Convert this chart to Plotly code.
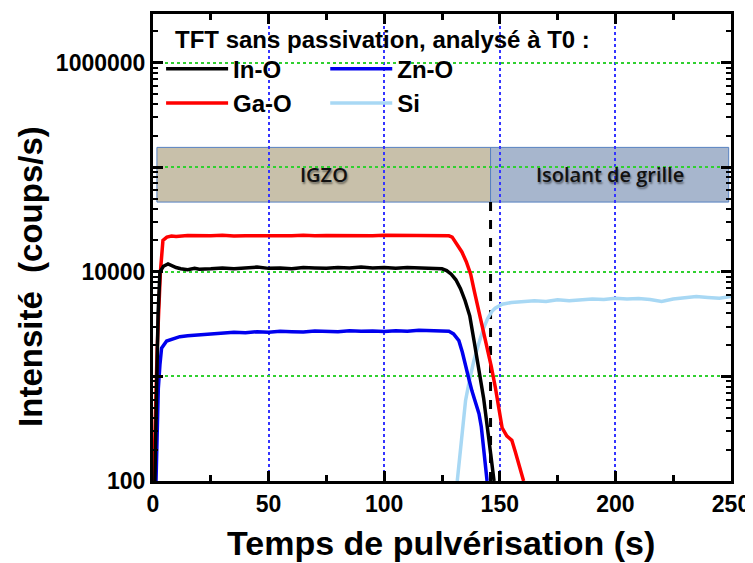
import math
import plotly.graph_objects as go

# ---------------- data ----------------
t_in = [0.8, 1.5, 2.2, 3.0, 4.5, 6.5, 8, 10, 12, 15, 18, 20, 25, 30, 35, 40, 45, 50, 55, 60, 65,
        70, 75, 80, 85, 90, 95, 100, 105, 110, 115, 120, 125, 127, 129, 131, 133, 135, 137, 139,
        141, 143, 145, 146, 147, 147.5]
in_o = [100, 1000, 4000, 10000, 11300, 11900, 11400, 11000, 10700, 10500, 10800, 10600, 10700,
        10900, 10700, 10800, 11100, 10800, 10900, 10700, 11000, 10900, 10800, 11000, 10900, 11100,
        10900, 11000, 10800, 11000, 10900, 10800, 10700, 10300, 9500, 8400, 6900, 5300, 3800, 2100,
        1100, 620, 280, 190, 120, 100]

t_ga = [0.3, 1.0, 1.8, 2.3, 3.2, 4.3, 6, 8, 10, 15, 20, 25, 30, 35, 40, 45, 50, 55, 60, 65, 70,
        75, 80, 85, 90, 95, 100, 105, 110, 115, 120, 125, 128, 129.4, 131, 133.6, 135.5, 137.4,
        139, 141, 142.8, 144.5, 146.3, 148.1, 149.5, 151, 153, 155.2, 156.7, 158.2, 160.3]
ga_o = [100, 500, 1800, 3400, 10000, 20000, 21500, 22000, 21800, 22300, 22000, 22100, 22400,
        22000, 22200, 22100, 22300, 22000, 22200, 22400, 22100, 22300, 22200, 22500, 22300,
        22200, 22400, 22300, 22100, 22400, 22300, 22200, 22100, 21500, 19000, 15500, 12500, 9500,
        6500, 4200, 2900, 2000, 1250, 780, 500, 323, 270, 245, 190, 148, 100]

t_zn = [1.3, 1.8, 2.3, 3.0, 3.7, 5.9, 8, 11.6, 15, 20, 25, 30, 35, 40, 45, 50, 55, 60, 65, 70,
        75, 80, 85, 90, 95, 100, 105, 110, 115, 120, 125, 128, 130, 132.3, 133.8, 135.2, 136.6,
        138, 139.5, 141, 142, 143.1, 144, 144.5]
zn_o = [100, 300, 770, 1300, 1860, 2180, 2250, 2400, 2450, 2500, 2550, 2600, 2650, 2620, 2680,
        2650, 2700, 2680, 2660, 2720, 2700, 2680, 2740, 2700, 2720, 2690, 2740, 2700, 2760, 2720,
        2700, 2700, 2550, 2200, 1700, 1220, 950, 720, 560, 440, 330, 200, 130, 100]

t_si = [131.6, 133.4, 135.2, 137, 138.8, 141, 143.1, 144.8, 146.6, 148, 149.6, 151, 155, 160,
        165, 170, 175, 180, 185, 190, 195, 200, 205, 210, 215, 220, 225, 230, 235, 240, 245, 250]
si = [100, 250, 590, 950, 1420, 2100, 2940, 3600, 4200, 4500, 4700, 4900, 5100, 5200, 5300,
      5200, 5400, 5300, 5400, 5500, 5450, 5600, 5500, 5550, 5450, 5200, 5500, 5600, 5800, 5700,
      5600, 5800]

# layer boxes and interface
interface_t = 146
igzo_box = [1.7, 146]
iso_box = [146, 249]
box_y = [46500, 155000]
layer_names = ["IGZO", "Isolant de grille"]

x_ticks = [0, 50, 100, 150, 200, 250]
y_ticks = [100, 1000, 10000, 100000, 1000000]
y_ticktext = ["100", "", "10000", "", "1000000"]

# ---------------- figure ----------------
FONT = "Liberation Sans, Arial, sans-serif"
fig = go.Figure()

box_mid_log = (math.log10(box_y[0]) + math.log10(box_y[1])) / 2
fig.add_shape(type="rect", xref="x", yref="y", x0=igzo_box[0], x1=igzo_box[1], y0=box_y[0], y1=box_y[1],
              fillcolor="#c8c0aa", line=dict(color="#5580c0", width=1), layer="below")
fig.add_shape(type="rect", xref="x", yref="y", x0=iso_box[0], x1=iso_box[1], y0=box_y[0], y1=box_y[1],
              fillcolor="#a7b6cd", line=dict(color="#5580c0", width=1), layer="below")
label_font = dict(family="Open Sans, Lato, sans-serif", size=20, color="#111", weight=600,
                  shadow="1px 2px 2px rgba(0,0,0,0.45)")
fig.add_annotation(x=(igzo_box[0] + igzo_box[1]) / 2, y=box_mid_log, xref="x", yref="y",
                   text=layer_names[0], showarrow=False, font=label_font,
                   xanchor="center", yanchor="middle")
fig.add_annotation(x=(iso_box[0] + iso_box[1]) / 2, y=box_mid_log, xref="x", yref="y",
                   text=layer_names[1], showarrow=False, font=label_font,
                   xanchor="center", yanchor="middle")

# interface dashed line
fig.add_trace(go.Scatter(x=[interface_t, interface_t], y=[100, box_y[0]], mode="lines",
                         line=dict(color="black", width=3, dash="dash"), showlegend=False,
                         hoverinfo="skip"))

lw = 3.5
fig.add_trace(go.Scatter(x=t_si, y=si, mode="lines", name="Si",
                         line=dict(color="#a8d8f4", width=lw), legend="legend2"))
fig.add_trace(go.Scatter(x=t_zn, y=zn_o, mode="lines", name="Zn-O",
                         line=dict(color="#0000ee", width=lw), legend="legend2"))
fig.add_trace(go.Scatter(x=t_ga, y=ga_o, mode="lines", name="Ga-O",
                         line=dict(color="#ff0000", width=lw), legend="legend"))
fig.add_trace(go.Scatter(x=t_in, y=in_o, mode="lines", name="In-O",
                         line=dict(color="#000000", width=lw), legend="legend"))

legend_font = dict(family=FONT, size=24, color="black", weight="bold")
fig.update_layout(
    width=745, height=555,
    margin=dict(l=145, r=20, t=3, b=82),
    paper_bgcolor="white", plot_bgcolor="white",
    legend=dict(x=0.014, y=0.93, xanchor="left", yanchor="top", traceorder="reversed",
                bgcolor="rgba(0,0,0,0)", font=legend_font, itemwidth=62, tracegroupgap=0),
    legend2=dict(x=0.298, y=0.93, xanchor="left", yanchor="top", traceorder="reversed",
                 bgcolor="rgba(0,0,0,0)", font=legend_font, itemwidth=62, tracegroupgap=0),
)

fig.add_annotation(x=0.397, y=0.945, xref="paper", yref="paper", text="TFT sans passivation, analysé à T0 :",
                   showarrow=False, xanchor="center", yanchor="middle",
                   font=dict(family=FONT, size=24, color="black", weight="bold"))
fig.add_annotation(x=-0.212, y=0.438, xref="paper", yref="paper", text="Intensité  (coups/s)",
                   textangle=-90, showarrow=False, xanchor="center", yanchor="middle",
                   font=dict(family=FONT, size=33, color="black", weight="bold"))
fig.add_annotation(x=0.498, y=-0.132, xref="paper", yref="paper", text="Temps de pulvérisation (s)",
                   showarrow=False, xanchor="center", yanchor="middle",
                   font=dict(family=FONT, size=34, color="black", weight="bold"))

fig.update_xaxes(range=[0, 250], tickvals=x_ticks, ticks="inside", ticklen=10, tickwidth=2.5,
                 tickcolor="black", showline=True, linewidth=3, linecolor="black", mirror="ticks",
                 showgrid=True, gridcolor="#3535ff", griddash="dot", gridwidth=1.5, zeroline=False,
                 tickfont=dict(family=FONT, size=23, color="black", weight="bold"),
                 minor=dict(dtick=25, ticks="inside", ticklen=6, tickwidth=2.5, tickcolor="black",
                            showgrid=False))
fig.update_yaxes(type="log", range=[2, 6.466], tickvals=y_ticks, ticktext=y_ticktext, ticks="inside",
                 ticklen=10, tickwidth=2.5, tickcolor="black", showline=True, linewidth=3,
                 linecolor="black", mirror="ticks", showgrid=True, gridcolor="#30d030", griddash="dot",
                 gridwidth=1.5, zeroline=False,
                 tickfont=dict(family=FONT, size=23, color="black", weight="bold"),
                 minor=dict(tickvals=[m * 10 ** e for e in range(2, 7) for m in range(2, 10)],
                            ticks="inside", ticklen=5, tickwidth=2, tickcolor="black", showgrid=False))

fig.write_html("out.html")
